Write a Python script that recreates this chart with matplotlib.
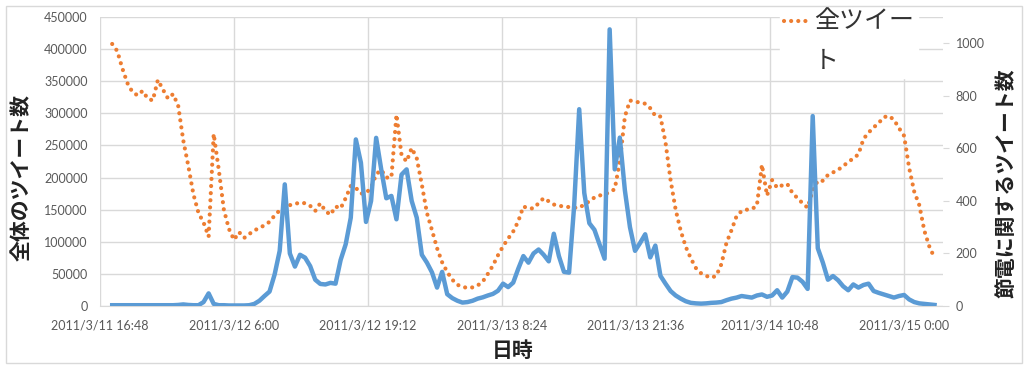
import pandas as pd
import matplotlib.pyplot as plt
from matplotlib.patches import Rectangle

# half-hourly samples, 2011/3/11 18:00 .. 2011/3/15 3:00
times = pd.date_range("2011-03-11 18:00", periods=163, freq="30min")

# all tweets (left axis)
all_tweets = [
    408000, 397000, 370000, 347000, 333000, 328000, 335000, 323000, 320000, 352000,
    337000, 323000, 330000, 312000, 258000, 218000, 174000, 145000, 130000, 108000,
    268000, 212000, 150000, 120000, 103000, 115000, 106000, 112000, 118000, 121000,
    126000, 131000, 141000, 149000, 155000, 157000, 159000, 161000, 160000, 156000,
    148000, 160000, 148000, 142000, 155000, 152000, 168000, 187000, 184000, 175000,
    176000, 184000, 205000, 212000, 200000, 200000, 298000, 235000, 225000, 246000,
    230000, 189000, 145000, 118000, 90000, 68000, 53000, 41000, 33000, 30000,
    28000, 29000, 32000, 38000, 50000, 63000, 79000, 93000, 105000, 116000,
    132000, 155000, 152000, 152000, 160000, 168000, 163000, 158000, 156000, 155000,
    154000, 153000, 153000, 158000, 163000, 169000, 172000, 174000, 177000, 182000,
    225000, 295000, 320000, 318000, 317000, 315000, 308000, 296000, 295000, 255000,
    196000, 150000, 117000, 92000, 74000, 59000, 51000, 47000, 44000, 47000,
    65000, 98000, 118000, 140000, 148000, 150000, 151000, 156000, 220000, 172000,
    196000, 184000, 188000, 190000, 176000, 168000, 160000, 153000, 180000, 195000,
    195000, 204000, 208000, 212000, 218000, 224000, 230000, 236000, 260000, 270000,
    278000, 285000, 294000, 296000, 290000, 277000, 265000, 215000, 178000, 157000,
    117000, 92000, 75000,
]

# tweets about power saving (right axis)
setsuden_tweets = [
    3, 3, 3, 3, 3, 3, 3, 3, 3, 3,
    3, 3, 3, 4, 6, 4, 3, 3, 15, 48,
    8, 3, 3, 2, 2, 2, 2, 3, 8, 20,
    38, 55, 120, 210, 463, 200, 150, 195, 184, 152,
    100, 84, 82, 88, 85, 175, 235, 336, 634, 545,
    320, 400, 640, 520, 410, 419, 330, 500, 520, 400,
    336, 195, 165, 128, 70, 130, 45, 30, 20, 13,
    15, 20, 28, 33, 40, 46, 58, 85, 72, 89,
    142, 190, 165, 200, 215, 195, 170, 275, 190, 130,
    127, 380, 749, 430, 315, 290, 235, 180, 1053, 520,
    641, 440, 300, 210, 240, 273, 185, 230, 115, 85,
    57, 40, 28, 18, 12, 10, 9, 10, 12, 13,
    15, 22, 28, 32, 38, 35, 32, 40, 44, 35,
    40, 60, 32, 55, 110, 108, 92, 65, 723, 220,
    165, 100, 114, 98, 75, 60, 82, 70, 80, 85,
    57, 50, 44, 38, 32, 38, 42, 25, 15, 10,
    8, 6, 4,
]

left_ticks = list(range(0, 450001, 50000))
right_ticks = [0, 200, 400, 600, 800, 1000]
x_ticks = pd.date_range("2011-03-11 16:48", periods=7, freq="792min")
x_labels = [f"{d.year}/{d.month}/{d.day} {d.hour}:{d.minute:02d}" for d in x_ticks]

orange = "#ED7D31"
blue = "#5B9BD5"
grid_c = "#D9D9D9"
text_c = "#595959"
jp = ["Noto Sans CJK JP", "DejaVu Sans"]

plt.rcParams["font.family"] = ["Lato", "DejaVu Sans"]

fig = plt.figure(figsize=(10.29, 3.69), dpi=100)
fig.patches.append(Rectangle((6 / 1029, 6 / 369), 1016 / 1029, 357 / 369,
                             transform=fig.transFigure, fill=False,
                             edgecolor=grid_c, linewidth=1))

ax1 = fig.add_axes([100 / 1029, 63 / 369, 843 / 1029, 289 / 369])
ax2 = ax1.twinx()

line_all, = ax1.plot(times, all_tweets, color=orange, linewidth=3.0,
                     linestyle=(0, (0.01, 1.7)), dash_capstyle="round",
                     label="全ツイー\nト")
ax2.plot(times, setsuden_tweets, color=blue, linewidth=3.2, solid_joinstyle="round")

ax1.set_ylim(0, 450000)
ax1.set_yticks(left_ticks)
ax1.set_yticklabels([str(v) for v in left_ticks])
ax2.set_ylim(0, 1100)
ax2.set_yticks(right_ticks)
ax2.set_yticklabels([str(v) for v in right_ticks])

ax1.set_xlim(pd.Timestamp("2011-03-11 16:48"), pd.Timestamp("2011-03-15 03:50"))
ax1.set_xticks(x_ticks)
ax1.set_xticklabels(x_labels)

ax1.grid(True, color=grid_c, linewidth=1)
ax1.set_axisbelow(True)
for ax in (ax1, ax2):
    for s in ax.spines.values():
        s.set_visible(False)
ax1.spines["bottom"].set_visible(True)
ax1.spines["bottom"].set_color(grid_c)

ax1.tick_params(axis="y", length=0, pad=9, labelsize=9, labelcolor=text_c)
ax1.tick_params(axis="x", length=0, pad=10, labelsize=9, labelcolor=text_c)
ax2.tick_params(axis="y", length=4, color=grid_c, pad=5, labelsize=9, labelcolor=text_c)

ax1.set_ylabel("全体のツイート数", family=jp, fontsize=15, fontweight="bold", color="#222222")
ax1.yaxis.set_label_coords(-0.081, 0.443)
ax2.set_ylabel("節電に関するツイート数", family=jp, fontsize=15, fontweight="bold",
               color="#222222", rotation=90)
ax2.yaxis.set_label_coords(1.062, 0.426)
ax1.set_xlabel("日時", family=jp, fontsize=15, fontweight="bold", color="#222222")
ax1.xaxis.set_label_coords(0.49, -0.118)

leg = ax2.legend(handles=[line_all], loc="upper left",
                 bbox_to_anchor=(780 / 1029, 1 - 4 / 369), bbox_transform=fig.transFigure,
                 prop={"family": jp, "size": 18}, frameon=True, fancybox=False,
                 edgecolor="white", facecolor="white", framealpha=1,
                 handlelength=0.9, handletextpad=0.3, borderpad=0.15, borderaxespad=0)
for t in leg.get_texts():
    t.set_color("#333333")
    t.set_linespacing(1.7)
# keep the legend sample beside the first text line
hl = leg.get_lines()[0]
hl.set_ydata([y + 15 for y in hl.get_ydata()])

fig.savefig("out.png", dpi=100)
